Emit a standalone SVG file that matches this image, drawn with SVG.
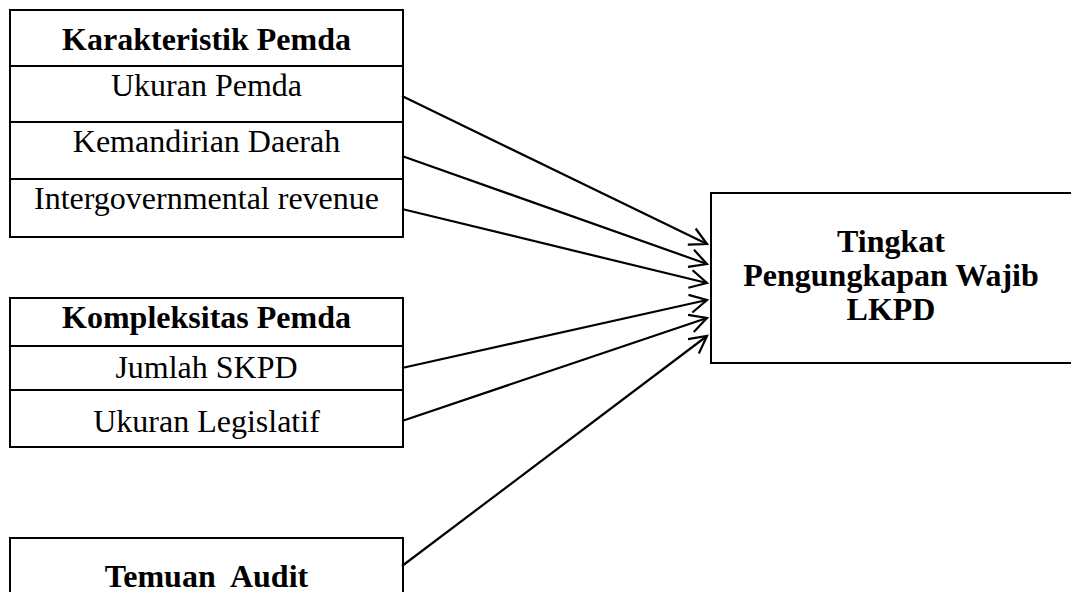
<svg xmlns="http://www.w3.org/2000/svg" width="1071" height="592" viewBox="0 0 1071 592">
<style>
.box{fill:#fff;stroke:#000;stroke-width:2}
.div{stroke:#000;stroke-width:2}
.t{font-family:"Liberation Serif","Times New Roman",serif;font-size:32px;fill:#000;text-anchor:middle}
.b{font-weight:bold}
.c{stroke:#000;stroke-width:2.2;fill:none}
</style>
<defs>
<marker id="ah" markerUnits="userSpaceOnUse" markerWidth="24" markerHeight="24" viewBox="-20 -12 24 24" refX="0" refY="0" orient="auto">
<path d="M-17,-9 L0,0 L-17,9" fill="none" stroke="#000" stroke-width="2.2"/>
</marker>
</defs>
<rect width="1071" height="592" fill="#fff"/>
<g id="karakteristik">
<rect class="box" x="10" y="10" width="393" height="227"/>
<line class="div" x1="10" y1="66" x2="403" y2="66"/>
<line class="div" x1="10" y1="122" x2="403" y2="122"/>
<line class="div" x1="10" y1="179" x2="403" y2="179"/>
<text class="t b" x="206.5" y="50">Karakteristik Pemda</text>
<text class="t" x="206.5" y="96">Ukuran Pemda</text>
<text class="t" x="206.5" y="152">Kemandirian Daerah</text>
<text class="t" x="206.5" y="209">Intergovernmental revenue</text>
</g>
<g id="kompleksitas">
<rect class="box" x="10" y="298" width="393" height="149"/>
<line class="div" x1="10" y1="346" x2="403" y2="346"/>
<line class="div" x1="10" y1="390" x2="403" y2="390"/>
<text class="t b" x="206.5" y="328">Kompleksitas Pemda</text>
<text class="t" x="206.5" y="378">Jumlah SKPD</text>
<text class="t" x="206.5" y="432">Ukuran Legislatif</text>
</g>
<g id="temuan">
<rect class="box" x="10" y="538" width="393" height="70"/>
<text class="t b" x="206.5" y="587" xml:space="preserve">Temuan  Audit</text>
</g>
<g id="tingkat">
<rect class="box" x="711" y="193" width="364" height="170"/>
<text class="t b" x="891" y="252">Tingkat</text>
<text class="t b" x="891" y="286">Pengungkapan Wajib</text>
<text class="t b" x="891" y="320">LKPD</text>
</g>
<g id="connectors">
<line class="c" x1="402" y1="96" x2="707" y2="244" marker-end="url(#ah)"/>
<line class="c" x1="402" y1="156" x2="707" y2="264" marker-end="url(#ah)"/>
<line class="c" x1="402" y1="209" x2="707" y2="283" marker-end="url(#ah)"/>
<line class="c" x1="402" y1="368" x2="707" y2="300" marker-end="url(#ah)"/>
<line class="c" x1="402" y1="421" x2="707" y2="318" marker-end="url(#ah)"/>
<line class="c" x1="402" y1="566" x2="707" y2="336" marker-end="url(#ah)"/>
</g>
</svg>
